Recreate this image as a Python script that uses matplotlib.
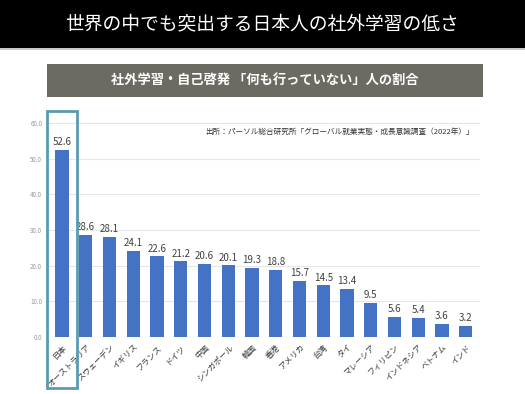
import numpy as np
import matplotlib.pyplot as plt
from matplotlib.patches import Rectangle

plt.rcParams['font.family'] = ['Noto Sans CJK JP', 'DejaVu Sans']

# Data
countries = ['日本', 'オーストラリア', 'スウェーデン', 'イギリス', 'フランス', 'ドイツ',
             '中国', 'シンガポール', '韓国', '香港', 'アメリカ', '台湾', 'タイ',
             'マレーシア', 'フィリピン', 'インドネシア', 'ベトナム', 'インド']
values = [52.6, 28.6, 28.1, 24.1, 22.6, 21.2, 20.6, 20.1, 19.3, 18.8,
          15.7, 14.5, 13.4, 9.5, 5.6, 5.4, 3.6, 3.2]
yticks = [0, 10, 20, 30, 40, 50, 60]

title = '世界の中でも突出する日本人の社外学習の低さ'
subtitle = '社外学習・自己啓発 「何も行っていない」人の割合'
source = '出所：パーソル総合研究所「グローバル就業実態・成長意識調査（2022年）」'

fig = plt.figure(figsize=(5.25, 3.94), dpi=100)

# Header bar
fig.patches.append(Rectangle((0, 1 - 48/394), 1, 48/394, transform=fig.transFigure,
                             facecolor='black', edgecolor='none'))
fig.patches.append(Rectangle((0, 1 - 50/394), 1, 2/394, transform=fig.transFigure,
                             facecolor='#c8c8c8', edgecolor='none'))
fig.text(0.5, 1 - 24/394, title, color='white', fontsize=13.5, ha='center', va='center')

# Subtitle box
fig.patches.append(Rectangle((47/525, 1 - 97/394), 436/525, 33/394, transform=fig.transFigure,
                             facecolor='#6b6a63', edgecolor='none'))
fig.text(265/525, 1 - 80/394, subtitle, color='white', fontsize=9.5, fontweight='bold',
         ha='center', va='center')

# Chart
ax = fig.add_axes([47.7/525, 57/394, (480 - 47.7)/525, 221/394])
x = np.arange(len(countries))
bars = ax.bar(x, values, width=0.56, color='#4472c4', zorder=3)
ax.bar_label(bars, labels=[f'{v:.1f}' for v in values], padding=2,
             fontsize=7, color='#404040')

ax.set_xlim(-0.6, len(countries) - 0.4)
ax.set_ylim(0, 62)
ax.set_yticks(yticks)
ax.set_yticklabels([f'{t:.1f}' for t in yticks], fontsize=4.5, color='#999999')
ax.set_xticks(x)
ax.set_xticklabels(countries, rotation=45, ha='right', rotation_mode='anchor',
                   fontsize=5.8, color='#333333')
ax.tick_params(axis='both', length=0, pad=4)
ax.grid(axis='y', color='#e6e6e6', linewidth=0.8, zorder=0)
for s in ax.spines.values():
    s.set_visible(False)
ax.axhline(0, color='#d9d9d9', linewidth=0.8, zorder=2)

ax.text(0.985, 0.93, source, transform=ax.transAxes, ha='right', va='center',
        fontsize=5.5, color='#333333')

# Highlight box around Japan
fig.patches.append(Rectangle((47/525, 6/394), 30/525, 277/394, transform=fig.transFigure,
                             facecolor='none', edgecolor='#5b9bb0', linewidth=2, zorder=10))

fig.savefig('out.png', dpi=100)
